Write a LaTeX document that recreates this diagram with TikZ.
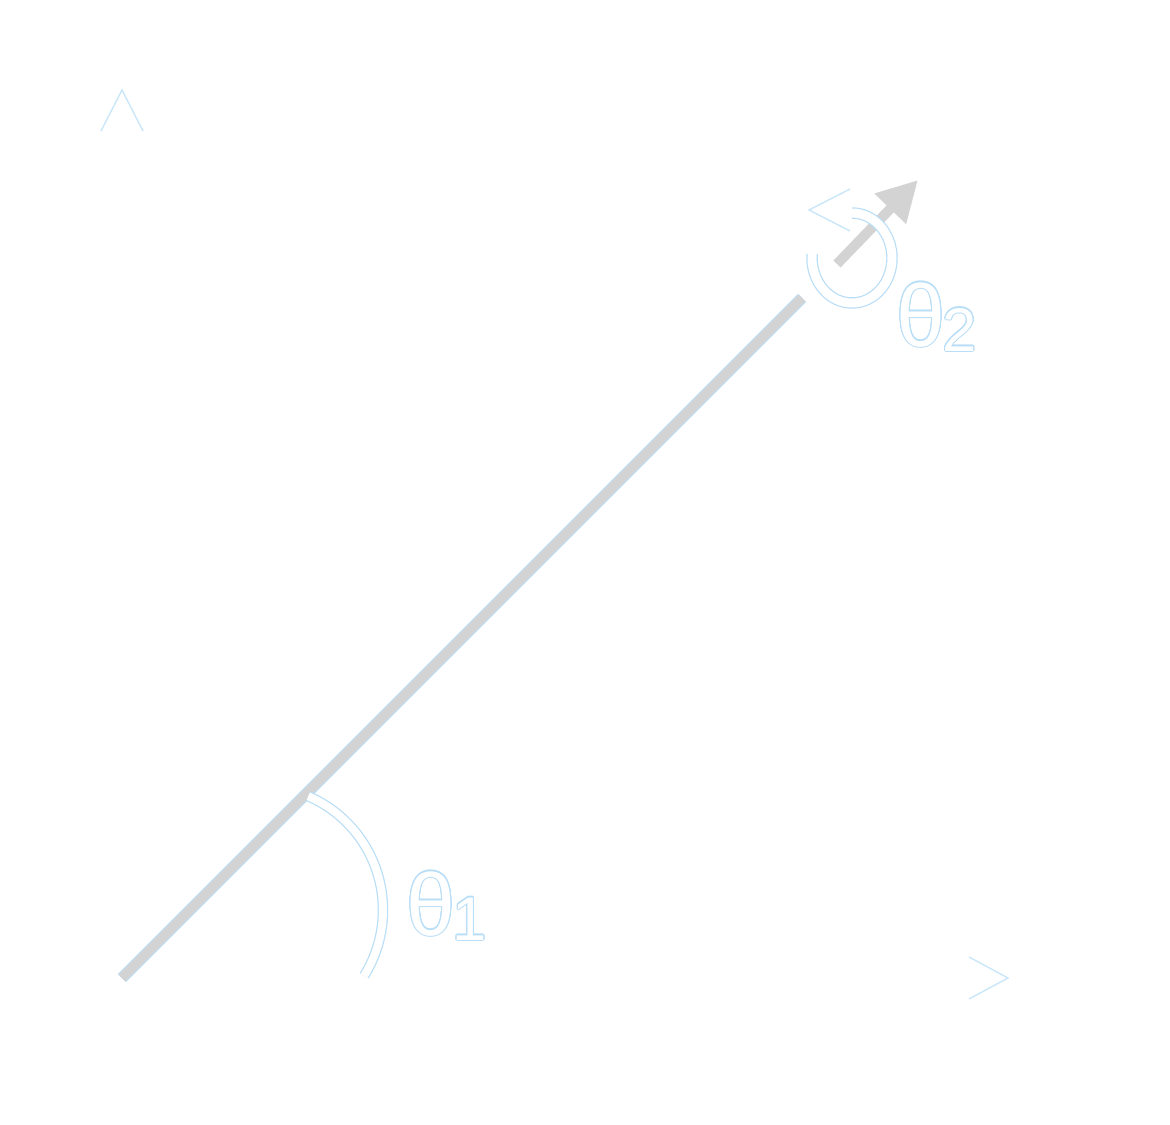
\documentclass[tikz,border=0pt]{standalone}
\usepackage{fontspec}
\setmainfont{Liberation Sans}
\usepackage[copies]{contour}
\contourlength{0.3pt}
\usetikzlibrary{arrows.meta}
\definecolor{linkgray}{RGB}{211,211,211}
\definecolor{fringe}{RGB}{185,222,247}
\newcommand{\anglabel}[1]{\contour{fringe}{\fontsize{25}{30}\selectfont θ}\kern-0.03cm\raisebox{-0.05cm}{\contour{fringe}{\fontsize{17.5}{21}\selectfont #1}}}

\begin{document}
\begin{tikzpicture}[x=0.01cm, y=-0.01cm,
  axisline/.style={white, line width=1pt},
  chev/.style={fringe!75, line width=0.4pt},
  ghost/.style={draw=fringe, line width=0.35pt, double=white, double distance=#1},
  linkbar/.style={draw=fringe, line width=0.3pt, double=linkgray, double distance=0.095cm},
  zaxis/.style={linkgray, line width=0.1cm, -{Triangle[length=0.4cm, width=0.41cm]}},
  lbl/.style={text=white, inner sep=0pt, anchor=base west}]
\useasboundingbox (0,0) rectangle (1170,1124);

% Base frame
\coordinate (O) at (122,978);
\coordinate (Ytip) at (122,90);
\coordinate (Xtip) at (1008,978);
\draw[axisline] (O) -- (Ytip);
\draw[axisline] (O) -- (Xtip);
\draw[chev] (Ytip) ++(-21,41) -- (Ytip) -- ++(21,41);
\draw[chev] (Xtip) ++(-39,-21) -- (Xtip) -- ++(-39,21);

% Link and first joint angle
\coordinate (L) at (802,298);
\coordinate (C1) at (259,910);
\draw[linkbar] (O) -- (L);
\draw[ghost=0.08cm] (C1) ++(-66.6:124) arc[start angle=-66.6, end angle=32, radius=124];

% Second joint: axis arrow and rotation
\coordinate (S) at (837,264);
\coordinate (T) at (918,180);
\coordinate (R) at (852,258);
\coordinate (Rtip) at (809,210);
\draw[zaxis] (S) -- (T);
\draw[ghost=0.09cm] (R) ++(185:40 and 45) arc[start angle=185, end angle=-90, x radius=40, y radius=45];
\draw[chev] (Rtip) ++(41,-21) -- (Rtip) -- ++(41,21);

% Labels
\node[lbl] (th1) at (406,935) {\anglabel{1}};
\node[lbl] (th2) at (896,346) {\anglabel{2}};
\end{tikzpicture}
\end{document}
